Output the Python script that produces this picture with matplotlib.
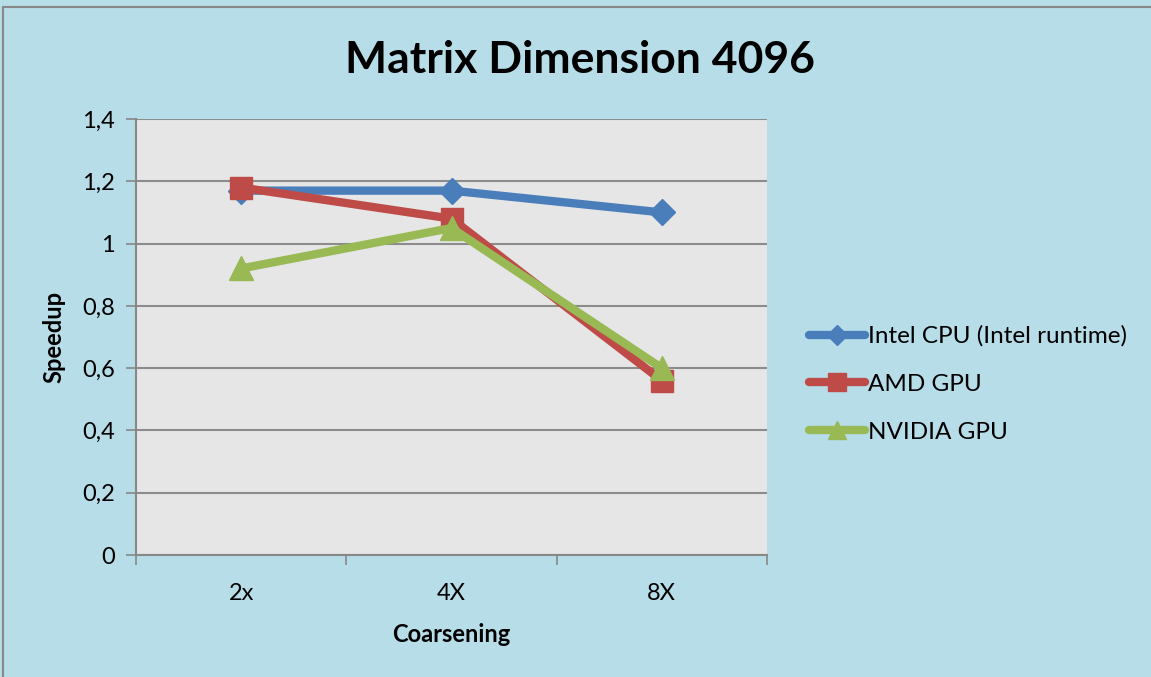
import matplotlib
matplotlib.use("Agg")
import matplotlib.pyplot as plt
from matplotlib.patches import Rectangle

# data
categories = ["2x", "4X", "8X"]
intel_cpu = [1.17, 1.17, 1.10]
amd_gpu = [1.18, 1.08, 0.56]
nvidia_gpu = [0.92, 1.05, 0.60]
y_ticks = [0, 0.2, 0.4, 0.6, 0.8, 1.0, 1.2, 1.4]
y_labels = ["0", "0,2", "0,4", "0,6", "0,8", "1", "1,2", "1,4"]

plt.rcParams["font.family"] = ["Lato", "DejaVu Sans"]

W, H = 1151, 677
fig = plt.figure(figsize=(W / 100, H / 100), dpi=100, facecolor="#b7dde8")
fig.patches.append(Rectangle((3 / W, -0.01), 1.2, 1 - 7 / H + 0.01,
                             transform=fig.transFigure, fill=False,
                             edgecolor="#888888", linewidth=1.5))

ax = fig.add_axes([136 / W, 1 - 555 / H, (767 - 136) / W, (555 - 119) / H])
ax.set_facecolor("#e6e6e6")

x = list(range(len(categories)))
ax.plot(x, intel_cpu, color="#4a7ebb", linewidth=6, marker="D", markersize=13,
        label="Intel CPU (Intel runtime)", solid_capstyle="round")
ax.plot(x, amd_gpu, color="#be4b48", linewidth=6, marker="s", markersize=16,
        label="AMD GPU", solid_capstyle="round")
ax.plot(x, nvidia_gpu, color="#98b954", linewidth=6, marker="^", markersize=17,
        label="NVIDIA GPU", solid_capstyle="round")

ax.set_xlim(-0.5, len(categories) - 0.5)
ax.set_ylim(0, 1.4)
ax.set_yticks(y_ticks)
ax.set_yticklabels(y_labels)
ax.set_xticks(x)
ax.set_xticklabels(categories)
ax.set_xticks([i - 0.5 for i in range(len(categories) + 1)], minor=True)
ax.tick_params(axis="x", which="major", length=0, pad=20, labelsize=17)
ax.tick_params(axis="x", which="minor", length=7, color="#888888", width=1.2)
ax.tick_params(axis="y", length=7, color="#888888", width=1.2, pad=8, labelsize=17)

ax.grid(True, axis="y", color="#8c8c8c", linewidth=1.5)
ax.set_axisbelow(True)
for side in ("top", "right"):
    ax.spines[side].set_visible(False)
for side in ("left", "bottom"):
    ax.spines[side].set_color("#888888")
    ax.spines[side].set_linewidth(1.5)

ax.set_xlabel("Coarsening", fontsize=17, fontweight="bold", labelpad=14)
ax.set_ylabel("Speedup", fontsize=17, fontweight="bold", labelpad=12)
fig.text(580 / W, 1 - 60 / H, "Matrix Dimension 4096", ha="center", va="center",
         fontsize=32, fontweight="bold")

leg = fig.legend(loc="center left", bbox_to_anchor=(787 / W, 1 - 384 / H),
                 frameon=False, fontsize=17.5, handlelength=2.3, handletextpad=0.15,
                 labelspacing=1.1, markerscale=0.8)

fig.savefig("out.png", dpi=100, facecolor=fig.get_facecolor())
